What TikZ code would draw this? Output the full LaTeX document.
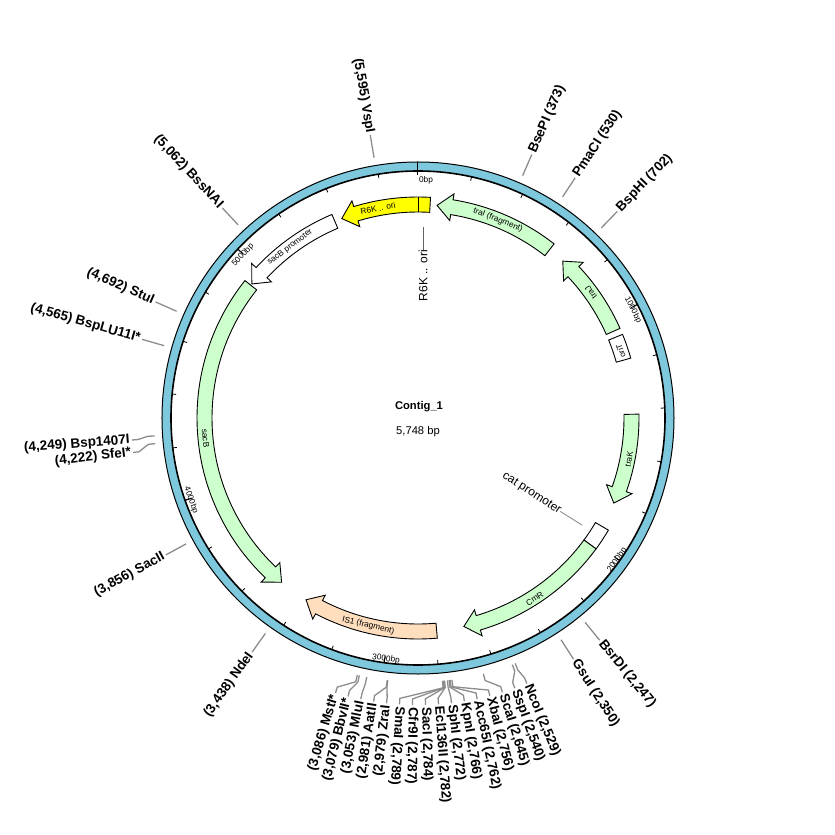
\documentclass[tikz,border=0pt]{standalone}
\usepackage{fontspec}
\setmainfont{Liberation Sans}

\definecolor{ringblue}{RGB}{125,200,220}
\definecolor{genegreen}{RGB}{204,255,204}
\definecolor{oriyellow}{RGB}{255,255,0}
\definecolor{ispeach}{RGB}{255,222,190}
\definecolor{leadgray}{RGB}{140,140,140}

\tikzset{
  feat/.style={draw=black, line width=0.9},
  featlab/.style={font={\fontsize{8.3}{9}\selectfont}, inner sep=0},
  ticklab/.style={font={\fontsize{8.3}{9}\selectfont}, inner sep=0},
  plainlab/.style={font={\fontsize{12}{14}\selectfont}, inner sep=0},
  site/.style={font={\bfseries\fontsize{13.5}{15}\selectfont}, inner sep=2},
  leader/.style={leadgray, line width=1.3},
}

% arrow on the map: tail bp, tip bp, fill
\newcommand{\featarrow}[3]{%
  \pgfmathsetmacro{\featA}{90-(#1)/5748*360}%
  \pgfmathsetmacro{\featP}{90-(#2)/5748*360}%
  \pgfmathsetmacro{\featH}{\featP+(\featA>\featP ? 4 : -4)}%
  \filldraw[feat,#3] (\featA:221) arc[start angle=\featA, end angle=\featH, radius=221]
    -- (\featH:227) -- (\featP:213.5) -- (\featH:200) -- (\featH:206)
    arc[start angle=\featH, end angle=\featA, radius=206] -- cycle;
}
% plain box on the map: from bp, to bp, fill
\newcommand{\featbox}[3]{%
  \pgfmathsetmacro{\featA}{90-(#1)/5748*360}%
  \pgfmathsetmacro{\featP}{90-(#2)/5748*360}%
  \filldraw[feat,#3] (\featA:206) arc[start angle=\featA, end angle=\featP, radius=206]
    -- (\featP:221) arc[start angle=\featP, end angle=\featA, radius=221] -- cycle;
}

\begin{document}
\begin{tikzpicture}[x=1pt,y=1pt]
\useasboundingbox (-418,-417) rectangle (417,418);

% backbone
\fill[ringblue, even odd rule] (0,0) circle (256) (0,0) circle (247);
\draw[line width=1] (0,0) circle (256);
\draw[line width=1.6] (0,0) circle (247);
\foreach \p in {200,400,...,5600} {
  \pgfmathsetmacro{\tickA}{90-\p/5748*360}
  \draw[line width=0.8] (\tickA:247) -- (\tickA:243);
}
\foreach \p in {1000,2000,...,5000} {
  \pgfmathsetmacro{\tickA}{90-\p/5748*360}
  \draw[line width=0.9] (\tickA:247) -- (\tickA:240);
}
\draw[line width=1] (90:256) -- (90:243);

\node[ticklab] (tk0) at (8,238) {0bp};
\node[ticklab, rotate=-62.6] (tk1) at (215,108) {1000bp};
\node[ticklab, rotate=55] (tk2) at (199,-142) {2000bp};
\node[ticklab, rotate=-7.9] (tk3) at (-32,-241) {3000bp};
\node[ticklab, rotate=-70.5] (tk4) at (-227,-82) {4000bp};
\node[ticklab, rotate=46.8] (tk5) at (-175,163) {5000bp};

% features
\featarrow{52}{-334}{fill=oriyellow}
\draw[line width=0.9] (90:206) -- (90:221);
\featarrow{607}{82}{fill=genegreen}
\featarrow{1055}{682}{fill=genegreen}
\featbox{1082}{1186}{fill=white}
\featarrow{1421}{1812}{fill=genegreen}
\featbox{1924}{2017}{fill=white}
\featarrow{2017}{2676}{fill=genegreen}
\featarrow{2794}{3379}{fill=ispeach}
\featarrow{4925}{3508}{fill=genegreen}
\featarrow{5382}{4932}{fill=white}

\node[featlab, rotate=10.8] (r6kin) at (100.8:213.5) {R6K .. ori};
\node[featlab, rotate=-22] (traIlab) at (68:213.5) {traI (fragment)};
\node[featlab, rotate=125.9] (traJlab) at (35.9:213.5) {traJ};
\node[featlab, rotate=108.3] (oriTlab) at (18.3:213.5) {oriT};
\node[featlab, rotate=79] (traKlab) at (-11:215) {traK};
\node[featlab, rotate=32.9] (cmRlab) at (-57.1:215) {CmR};
\node[featlab, rotate=-13.5] (is1lab) at (-103.5:213.5) {IS1 (fragment)};
\node[featlab, rotate=36.8] (sacBplab) at (126.8:213.5) {sacB promoter};
\node[featlab, rotate=-84.6] (sacBlab) at (185.4:213.5) {sacB};

\coordinate (r6kpt) at (5,191);
\node[plainlab, rotate=90, anchor=east] (r6klab) at (5,168) {R6K .. ori};
\draw[leadgray!70!black, line width=0.8] (r6kpt) -- (r6klab);
\coordinate (catpt) at (164,-107);
\node[plainlab, rotate=-33, anchor=east] (catlab) at (142,-94) {cat promoter};
\draw[leadgray, line width=0.9] (catpt) -- (catlab);

% title
\node[font={\bfseries\fontsize{11.2}{13}\selectfont}] (title) at (1,11) {Contig\_1};
\node[font={\fontsize{11.2}{13}\selectfont}] (size) at (0,-14) {5,748 bp};

% enzyme sites, right half
\foreach \lab/\pos/\shown [count=\i] in {
  {BsePI (373)}/373/23.36, {PmaCI (530)}/530/33.19, {BspHI (702)}/702/43.97,
  {BsrDI (2,247)}/2247/140.73, {GsuI (2,350)}/2350/147.18,
  {NcoI (2,529)}/2529/157.7, {SspI (2,540)}/2540/160.3, {ScaI (2,645)}/2645/162.9,
  {XbaI (2,756)}/2756/165.5, {Acc65I (2,762)}/2762/168.1, {KpnI (2,766)}/2766/170.7,
  {SphI (2,772)}/2772/173.3, {Ecl136II (2,782)}/2782/175.9, {SacI (2,784)}/2784/178.5,
  {Cfr9I (2,787)}/2787/181.1, {SmaI (2,789)}/2789/183.7} {
  \pgfmathsetmacro{\siteA}{90-\pos/5748*360}
  \pgfmathsetmacro{\siteD}{90-\shown}
  \coordinate (rs\i-a) at (\siteA:264);
  \coordinate (rs\i-b) at (\siteA:271);
  \coordinate (rs\i-c) at (\siteD:281);
  \node[site, anchor=west, rotate=\siteD] (rs\i) at (\siteD:287) {\lab};
  \draw[leader] (rs\i-a) -- (rs\i-b) -- (rs\i-c) -- (rs\i);
}
% enzyme sites, left half
\foreach \lab/\pos/\shown [count=\i] in {
  {(2,979) ZraI}/2979/186.3, {(2,981) AatII}/2981/188.9, {(3,053) MluI}/3053/191.5,
  {(3,079) BbvII*}/3079/194.1, {(3,086) MstI*}/3086/196.7, {(3,438) NdeI}/3438/215.32,
  {(3,856) SacII}/3856/241.5, {(4,222) SfeI*}/4222/263.1, {(4,249) Bsp1407I}/4249/265.6,
  {(4,565) BspLU11I*}/4565/285.91, {(4,692) StuI}/4692/293.86,
  {(5,062) BssNAI}/5062/317.03, {(5,595) VspI}/5595/350.42} {
  \pgfmathsetmacro{\siteA}{90-\pos/5748*360}
  \pgfmathsetmacro{\siteD}{90-\shown}
  \pgfmathsetmacro{\siteR}{270-\shown}
  \coordinate (ls\i-a) at (\siteA:264);
  \coordinate (ls\i-b) at (\siteA:271);
  \coordinate (ls\i-c) at (\siteD:281);
  \node[site, anchor=east, rotate=\siteR] (ls\i) at (\siteD:287) {\lab};
  \draw[leader] (ls\i-a) -- (ls\i-b) -- (ls\i-c) -- (ls\i);
}
\end{tikzpicture}
\end{document}
